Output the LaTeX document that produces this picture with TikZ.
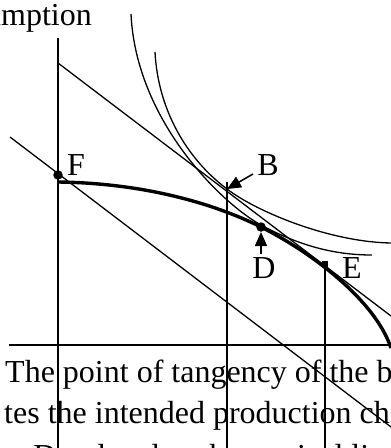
\documentclass[tikz,border=0pt]{standalone}
\usepackage{fontspec}
\setmainfont{Liberation Serif}
\usetikzlibrary{arrows.meta}
\begin{document}
\begin{tikzpicture}[x=1pt,y=-1pt,
  thinline/.style={line width=1.3pt},
  thickline/.style={line width=3.4pt},
  lbl/.style={font=\fontsize{32}{38}\selectfont, inner sep=0pt},
  txt/.style={font=\fontsize{32}{40}\selectfont, inner sep=0pt, anchor=base west},
  dotmark/.style={circle, fill, inner sep=0pt, minimum size=9.5pt},
  sqmark/.style={rectangle, fill, inner sep=0pt, minimum size=6pt},
  pointer/.style={line width=1.5pt, -{Triangle[length=14pt,width=12pt]}}]
\useasboundingbox (0,0) rectangle (391,448);
\clip (0,0) rectangle (391,448);
% axes and verticals
\coordinate (axL) at (9,345);
\coordinate (axR) at (391,345);
\draw[line width=1.8pt] (axL) -- (axR);
\coordinate (v1t) at (58,38);
\coordinate (v1b) at (58,448);
\draw[thinline] (v1t) -- (v1b);
\coordinate (v2t) at (227,182);
\coordinate (v2b) at (227,448);
\draw[thinline] (v2t) -- (v2b);
\coordinate (v3t) at (325,263);
\coordinate (v3b) at (325,448);
\draw[thinline] (v3t) -- (v3b);
% budget lines
\coordinate (u1) at (58,63);
\coordinate (u2) at (391,316);
\draw[thinline] (u1) -- (u2);
\coordinate (l1) at (10,137);
\coordinate (l2) at (391,427);
\draw[thinline] (l1) -- (l2);
% indifference curves
\coordinate (B) at (227,189);
\coordinate (ic1a) at (155,52);
\coordinate (ic1b) at (391,243);
\draw[thinline] (ic1a) .. controls (158,110) and (187,159) .. (B)
  .. controls (257,212) and (330,242) .. (ic1b);
\coordinate (ic2a) at (131,14);
\coordinate (ic2m) at (261,225);
\coordinate (ic2b) at (372,255);
\draw[thinline] (ic2a) .. controls (136,120) and (221,203) .. (ic2m)
  .. controls (300,246) and (335,255) .. (ic2b);
% production possibility frontier
\coordinate (pA) at (58,182);
\coordinate (pD) at (261,227);
\coordinate (pB) at (391,348);
\draw[thickline] (pA) .. controls (140,183) and (211,202) .. (pD)
  .. controls (311,252) and (375,300) .. (pB);
% points
\node[dotmark] (F) at (58,175) {};
\node[dotmark] (D) at (pD) {};
\node[sqmark] (E) at (325,264) {};
% labels
\node[lbl] (Fl) at (76,165) {F};
\node[lbl] (Bl) at (268,165) {B};
\node[lbl] (Dl) at (264,268) {D};
\node[lbl] (El) at (352,268) {E};
\coordinate (Bt) at (253,174);
\draw[pointer] (Bt) -- (B);
\coordinate (Dt) at (261,254);
\coordinate (Dh) at (261,232);
\draw[pointer] (Dt) -- (Dh);
% text
\node[txt, anchor=base east] (ttl) at (92,25) {Consumption};
\node[txt] (t1) at (5,382) {The point of tangency of the budget line};
\node[txt] (t2) at (4,423) {tes the intended production choice};
\node[txt] (t3) at (2,466) {at D, related to the vertical line};
\end{tikzpicture}
\end{document}
